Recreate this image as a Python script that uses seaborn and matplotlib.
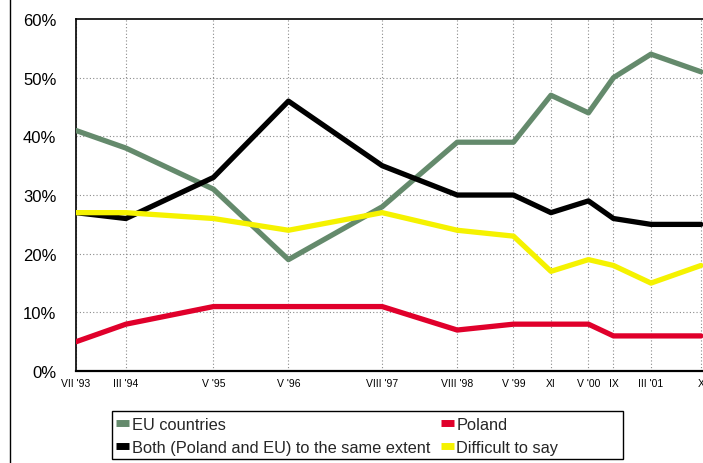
import matplotlib
matplotlib.use("Agg")
import matplotlib.pyplot as plt
from matplotlib.lines import Line2D
from matplotlib.patches import Rectangle
import seaborn as sns
import pandas as pd

# Survey waves (months counted from January 1993) and their labels
months = [6, 14, 28, 40, 55, 67, 76, 82, 88, 92, 98, 106]
tick_labels = ["VII '93", "III '94", "V '95", "V '96", "VIII '97", "VIII '98",
               "V '99", "XI", "V '00", "IX", "III '01", "X"]

eu_countries = [41, 38, 31, 19, 28, 39, 39, 47, 44, 50, 54, 51]
poland = [5, 8, 11, 11, 11, 7, 8, 8, 8, 6, 6, 6]
both = [27, 26, 33, 46, 35, 30, 30, 27, 29, 26, 25, 25]
difficult = [27, 27, 26, 24, 27, 24, 23, 17, 19, 18, 15, 18]

series_names = ["EU countries", "Poland",
                "Both (Poland and EU) to the same extent", "Difficult to say"]
series_values = [eu_countries, poland, both, difficult]
palette = {
    "EU countries": "#648a6c",
    "Poland": "#e0002b",
    "Both (Poland and EU) to the same extent": "#000000",
    "Difficult to say": "#f5f200",
}

rows = []
for name, vals in zip(series_names, series_values):
    for m, v in zip(months, vals):
        rows.append({"month": m, "share": v, "answer": name})
df = pd.DataFrame(rows)

sns.set_theme(style="white")
plt.rcParams["font.family"] = ["Liberation Sans", "DejaVu Sans"]

fig = plt.figure(figsize=(7.03, 4.64), dpi=100)
ax = fig.add_axes([0.108, 0.198, 0.898, 0.759])

# dotted grid underneath the series
for m in months:
    ax.axvline(m, color="#8a8a8a", linestyle=(0, (1, 2)), linewidth=0.8, zorder=0)
for y in [10, 20, 30, 40, 50]:
    ax.axhline(y, color="#8a8a8a", linestyle=(0, (1, 2)), linewidth=0.8, zorder=0)

sns.lineplot(data=df, x="month", y="share", hue="answer", hue_order=series_names,
             palette=palette, linewidth=3.8, legend=False, ax=ax, zorder=3)

ax.set_xlim(6, 107)
ax.set_ylim(0, 60)
ax.set_xticks(months)
ax.set_xticklabels(tick_labels, fontsize=7.5)
ax.set_yticks(range(0, 61, 10))
ax.set_yticklabels([f"{v}%" for v in range(0, 61, 10)], fontsize=12)
ax.tick_params(axis="both", length=0, colors="#000000")
ax.tick_params(axis="x", pad=5)
ax.tick_params(axis="y", pad=14)
ax.set_xlabel("")
ax.set_ylabel("")
ax.grid(False)

for side in ["top", "left", "bottom"]:
    ax.spines[side].set_color("#000000")
ax.spines["top"].set_linewidth(1.2)
ax.spines["left"].set_linewidth(1.2)
ax.spines["bottom"].set_linewidth(1.6)
ax.spines["right"].set_visible(False)

# page frame line on the left
fig.add_artist(Line2D([10 / 703, 10 / 703], [0, 1], color="#000000", linewidth=1.0))

# legend box, wider than its entries
fig.add_artist(Rectangle((112 / 703, 4 / 464), (623 - 112) / 703, 48 / 464,
                         transform=fig.transFigure, fill=False,
                         edgecolor="#000000", linewidth=1.0))

handles = [Line2D([0], [0], color=palette[n], linewidth=5, solid_capstyle="butt")
           for n in series_names]
order = [0, 2, 1, 3]
leg = fig.legend([handles[i] for i in order], [series_names[i] for i in order],
                 loc="upper left", bbox_to_anchor=(116 / 703, 1 - 418 / 464),
                 ncol=2, fontsize=11.8, frameon=False,
                 handlelength=0.8, handletextpad=0.15, columnspacing=0.65,
                 borderpad=0, labelspacing=0.5, borderaxespad=0)

fig.savefig("out.png", dpi=100)
